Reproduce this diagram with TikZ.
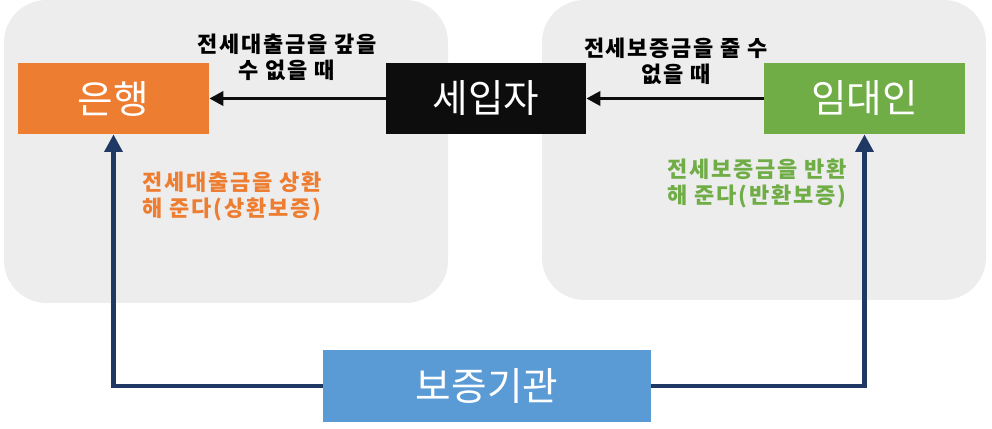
\documentclass[tikz,border=0pt]{standalone}
\usepackage{fontspec}
\newfontfamily\krfont{Noto Sans CJK KR}
\newfontfamily\krlabelfont[LetterSpace=8]{Noto Sans CJK KR}
\usetikzlibrary{arrows.meta,positioning}
\definecolor{panelgray}{HTML}{EDEDED}
\definecolor{bankorange}{HTML}{ED7D31}
\definecolor{tenantblack}{HTML}{0D0D0D}
\definecolor{ownergreen}{HTML}{70AD47}
\definecolor{guarblue}{HTML}{5B9BD5}
\definecolor{linenavy}{HTML}{1F3864}
\tikzset{
  panel/.style={fill=panelgray,draw=none,rounded corners=0.85cm},
  partybox/.style={minimum width=3.82cm,minimum height=1.42cm,inner sep=0,
    text=white,font=\krfont\fontsize{22pt}{26pt}\selectfont},
  condlabel/.style={align=center,font=\krlabelfont\bfseries\fontsize{12.5pt}{14.8pt}\selectfont},
  blackarrow/.style={line width=2.2pt,-{Triangle[length=8pt,width=8pt]}},
  navyarrow/.style={draw=linenavy,line width=2.6pt,
    -{Triangle[length=10pt,width=10pt]}}
}
\begin{document}
\begin{tikzpicture}[x=0.02cm,y=-0.02cm]
    \useasboundingbox (0,0) rectangle (992,429);
    % background panels
    \fill[panel] (4,0) rectangle (448,303);
    \fill[panel] (542,0) rectangle (986,300);
    % parties
    \node[partybox,fill=bankorange] (bank) at (113.5,98.5) {은행};
    \node[partybox,fill=tenantblack,minimum width=4cm] (tenant) at (486,98.5) {세입자};
    \node[partybox,fill=ownergreen,minimum width=4.02cm] (owner) at (864.5,98.5) {임대인};
    \node[partybox,fill=guarblue,minimum width=6.56cm,minimum height=1.44cm] (guar) at (487,386) {보증기관};
    % defaults
    \draw[blackarrow,draw=tenantblack] (tenant.west) -- (bank.east);
    \draw[blackarrow,draw=tenantblack] (owner.west) -- (tenant.east);
    \node[condlabel] (loanfail) at (287,57) {전세대출금을 갚을\\수 없을 때};
    \node[condlabel] (depositfail) at (676,61) {전세보증금을 줄 수\\없을 때};
    % guarantees
    \draw[navyarrow] (guar.west) -| (bank.south);
    \draw[navyarrow] (guar.east) -| (owner.south);
    \node[condlabel,text=bankorange] (repay) at (232,196) {전세대출금을 상환\\해 준다(상환보증)};
    \node[condlabel,text=ownergreen] (refund) at (757,183) {전세보증금을 반환\\해 준다(반환보증)};
\end{tikzpicture}
\end{document}
